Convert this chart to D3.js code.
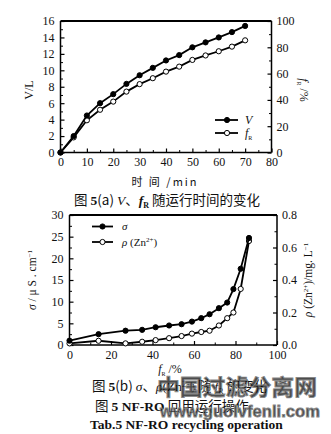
<!DOCTYPE html>
<html><head><meta charset="utf-8">
<script src="https://cdn.jsdelivr.net/npm/d3@7"></script>
<style>
body{margin:0;background:#fff;}
svg{display:block;}
text{font-family:"Liberation Serif","Times New Roman",serif;fill:#111;}
.cjk{font-family:"Noto Sans CJK SC",sans-serif;}
</style></head>
<body>
<svg id="c" width="331" height="434"></svg>
<script>
// ---- Chart (a) data ----
const timeMin = [0,5,10,15,20,25,30,35,40,45,50,55,60,65,70];
const volumeL = [0,2.0,4.5,6.0,7.1,8.35,9.4,10.3,11.2,11.85,12.8,13.4,14.0,14.65,15.4];
const recoveryF = [0,11.5,24.5,32.5,38.7,46.3,52,56.5,61.5,65.3,70.4,73.8,77,80.5,85.3];
const xTicksA = [0,10,20,30,40,50,60,70,80];
const yTicksALeft = [0,2,4,6,8,10,12,14,16];
const yTicksARight = [0,20,40,60,80,100];

// ---- Chart (b) data ----
const fR = [0,14,27,35,41.5,48,54,59,63.5,67.5,72,76,79,82.5,86.5];
const sigma = [1.0,2.5,3.3,3.5,4.1,4.5,4.8,5.4,6.2,7.1,8.5,9.8,12.9,17.6,24.7];
const rhoZn = [0.01,0.026,0.01,0.02,0.03,0.042,0.055,0.07,0.08,0.088,0.12,0.165,0.2,0.345,0.64];
const xTicksB = [0,20,40,60,80,100];
const yTicksBLeft = [0,5,10,15,20,25,30];
const yTicksBRight = [0,0.2,0.4,0.6,0.8];

const svg = d3.select("#c");

function frame(g, x0, x1, y0, y1){
  g.append("line").attr("x1",x0).attr("x2",x1).attr("y1",y0).attr("y2",y0).attr("stroke","#000").attr("stroke-width",2.2);
  g.append("line").attr("x1",x0).attr("x2",x1).attr("y1",y1).attr("y2",y1).attr("stroke","#000").attr("stroke-width",1.5);
  g.append("line").attr("x1",x0).attr("x2",x0).attr("y1",y0).attr("y2",y1).attr("stroke","#000").attr("stroke-width",1.5);
  g.append("line").attr("x1",x1).attr("x2",x1).attr("y1",y0).attr("y2",y1).attr("stroke","#000").attr("stroke-width",1.5);
}
function styleAxis(sel, fs){
  sel.select(".domain").remove();
  sel.selectAll("line").attr("stroke","#000").attr("stroke-width",1.2);
  sel.selectAll("text").style("font-size",fs+"px").attr("fill","#111");
}
function minorTicks(g, axisFn, scale, vals, transform){
  const a = g.append("g").attr("transform",transform).call(axisFn(scale).tickValues(vals).tickSize(-2.5).tickFormat(""));
  a.select(".domain").remove();
  a.selectAll("line").attr("stroke","#000").attr("stroke-width",1);
}
function series(g, x, y, xs, ys, filled){
  const line = d3.line().x((d,i)=>x(xs[i])).y(d=>y(d));
  g.append("path").datum(ys).attr("d",line).attr("fill","none").attr("stroke","#000").attr("stroke-width",1.8);
  g.selectAll(null).data(ys).enter().append("circle")
    .attr("cx",(d,i)=>x(xs[i])).attr("cy",d=>y(d)).attr("r",2.6)
    .attr("fill",filled?"#000":"#fff").attr("stroke","#000").attr("stroke-width",1);
}

// ================= Chart (a) =================
{
  const L=60.5, R=271.5, T=21, B=152.5;
  const x = d3.scaleLinear().domain([0,80]).range([L,R]);
  const yl = d3.scaleLinear().domain([0,16]).range([B,T]);
  const yr = d3.scaleLinear().domain([0,100]).range([B,T]);
  const g = svg.append("g");
  const gx = g.append("g").attr("transform",`translate(0,${B})`).call(d3.axisBottom(x).tickValues(xTicksA).tickSize(-4).tickPadding(5));
  styleAxis(gx,12);
  minorTicks(g, d3.axisBottom, x, d3.range(5,80,10), `translate(0,${B})`);
  const gl = g.append("g").attr("transform",`translate(${L},0)`).call(d3.axisLeft(yl).tickValues(yTicksALeft).tickSize(-4).tickPadding(6));
  styleAxis(gl,12);
  minorTicks(g, d3.axisLeft, yl, d3.range(1,16,2), `translate(${L},0)`);
  const gr = g.append("g").attr("transform",`translate(${R},0)`).call(d3.axisRight(yr).tickValues(yTicksARight).tickSize(-4).tickPadding(5));
  styleAxis(gr,12);
  minorTicks(g, d3.axisRight, yr, d3.range(10,100,20), `translate(${R},0)`);
  frame(g,L,R,T,B);
  series(g,x,yr,timeMin,recoveryF,false);
  series(g,x,yl,timeMin,volumeL,true);
  // legend
  [[120,true,"V"],[133,false,"f"]].forEach(([ly,filled,lab])=>{
    g.append("line").attr("x1",215).attr("x2",238).attr("y1",ly).attr("y2",ly).attr("stroke","#000").attr("stroke-width",1.8);
    g.append("circle").attr("cx",227).attr("cy",ly).attr("r",2.6).attr("fill",filled?"#000":"#fff").attr("stroke","#000");
    const t = g.append("text").attr("x",245).attr("y",ly+4).style("font-size","12px").style("font-style","italic").text(lab);
    if(!filled) t.append("tspan").attr("dy",3).style("font-size","6px").style("font-style","normal").text("R");
  });
  // axis titles
  g.append("text").attr("transform","translate(33,90) rotate(-90)").attr("text-anchor","middle").style("font-size","12px").text("V/L");
  const rt = g.append("text").attr("transform","translate(300,90) rotate(90)").attr("text-anchor","middle").style("font-size","12px");
  rt.append("tspan").style("font-style","italic").text("f");
  rt.append("tspan").attr("dy",3).style("font-size","6px").text("R");
  rt.append("tspan").attr("dy",-3).text(" /%");
  g.append("text").attr("class","cjk").attr("x",165).attr("y",186).attr("text-anchor","middle").style("font-size","11px").style("letter-spacing","2px").text("时 间 /min");
  const cap = g.append("text").attr("x",74).attr("y",205).style("font-size","13.5px");
  cap.append("tspan").attr("class","cjk").text("图 ");
  cap.append("tspan").style("font-weight","bold").text("5");
  cap.append("tspan").attr("class","cjk").text("(a)    ");
  cap.append("tspan").style("font-style","italic").text("V");
  cap.append("tspan").attr("class","cjk").text("、");
  cap.append("tspan").style("font-style","italic").style("font-weight","bold").text("f");
  cap.append("tspan").attr("dy",3).style("font-size","8px").style("font-weight","bold").text("R");
  cap.append("tspan").attr("dy",-3).attr("class","cjk").text(" 随运行时间的变化");
}

// ================= Chart (b) =================
{
  const L=69.5, R=277, T=215, B=345;
  const x = d3.scaleLinear().domain([0,100]).range([L,R]);
  const yl = d3.scaleLinear().domain([0,30]).range([B,T]);
  const yr = d3.scaleLinear().domain([0,0.8]).range([B,T]);
  const g = svg.append("g");
  const gx = g.append("g").attr("transform",`translate(0,${B})`).call(d3.axisBottom(x).tickValues(xTicksB).tickSize(-4).tickPadding(5));
  styleAxis(gx,12);
  minorTicks(g, d3.axisBottom, x, d3.range(10,100,20), `translate(0,${B})`);
  const gl = g.append("g").attr("transform",`translate(${L},0)`).call(d3.axisLeft(yl).tickValues(yTicksBLeft).tickSize(-4).tickPadding(6));
  styleAxis(gl,12);
  minorTicks(g, d3.axisLeft, yl, d3.range(2.5,30,5), `translate(${L},0)`);
  const gr = g.append("g").attr("transform",`translate(${R},0)`).call(d3.axisRight(yr).tickValues(yTicksBRight).tickSize(-4).tickPadding(5).tickFormat(d3.format(".1f")));
  styleAxis(gr,12);
  minorTicks(g, d3.axisRight, yr, d3.range(0.1,0.8,0.2), `translate(${R},0)`);
  frame(g,L,R,T,B);
  series(g,x,yr,fR,rhoZn,false);
  series(g,x,yl,fR,sigma,true);
  // legend
  [[226.5,true],[242,false]].forEach(([ly,filled])=>{
    g.append("line").attr("x1",92).attr("x2",113).attr("y1",ly).attr("y2",ly).attr("stroke","#000").attr("stroke-width",1.8);
    g.append("circle").attr("cx",102.5).attr("cy",ly).attr("r",2.6).attr("fill",filled?"#000":"#fff").attr("stroke","#000");
  });
  g.append("text").attr("x",122).attr("y",230).style("font-size","11px").style("font-style","italic").attr("fill","#555").text("σ");
  const l2 = g.append("text").attr("x",122).attr("y",245.5).style("font-size","11px").attr("fill","#555");
  l2.append("tspan").style("font-style","italic").text("ρ");
  l2.append("tspan").text(" (Zn");
  l2.append("tspan").attr("dy",-4).style("font-size","7px").text("2+");
  l2.append("tspan").attr("dy",4).text(")");
  // axis titles
  const lt = g.append("text").attr("transform","translate(36,280) rotate(-90)").attr("text-anchor","middle").style("font-size","11.5px");
  lt.append("tspan").style("font-style","italic").text("σ");
  lt.append("tspan").text(" / μ S . cm");
  lt.append("tspan").attr("dy",-4).style("font-size","7px").text("−1");
  const rt = g.append("text").attr("transform","translate(312,280) rotate(-90)").attr("text-anchor","middle").style("font-size","11.5px");
  rt.append("tspan").style("font-style","italic").text("ρ");
  rt.append("tspan").text(" (Zn");
  rt.append("tspan").attr("dy",-4).style("font-size","7px").text("2+");
  rt.append("tspan").attr("dy",4).text(")/mg. L");
  rt.append("tspan").attr("dy",-4).style("font-size","7px").text("−1");
  const xt = g.append("text").attr("x",170).attr("y",373).attr("text-anchor","middle").style("font-size","12px");
  xt.append("tspan").style("font-style","italic").text("f");
  xt.append("tspan").attr("dy",3).style("font-size","6px").text("R");
  xt.append("tspan").attr("dy",-3).text(" /%");
  // captions
  const c1 = g.append("text").attr("x",92).attr("y",391).style("font-size","13.5px");
  c1.append("tspan").attr("class","cjk").text("图 ");
  c1.append("tspan").style("font-weight","bold").text("5");
  c1.append("tspan").attr("class","cjk").text("(b)    ");
  c1.append("tspan").style("font-style","italic").text("σ");
  c1.append("tspan").attr("class","cjk").text("、");
  c1.append("tspan").style("font-style","italic").text("ρ");
  c1.append("tspan").text("(Zn");
  c1.append("tspan").attr("dy",-4).style("font-size","8px").text("2+");
  c1.append("tspan").attr("dy",4).text(")");
  c1.append("tspan").attr("class","cjk").text(" 随 ");
  c1.append("tspan").style("font-style","italic").text("f");
  c1.append("tspan").attr("dy",3).style("font-size","8px").text("R");
  c1.append("tspan").attr("dy",-3).attr("class","cjk").text(" 的变化");
  const c2 = g.append("text").attr("x",95).attr("y",411).style("font-size","13.5px");
  c2.append("tspan").attr("class","cjk").text("图 ");
  c2.append("tspan").style("font-weight","bold").text("5     NF-RO ");
  c2.append("tspan").attr("class","cjk").text("回用运行操作");
  g.append("text").attr("x",90).attr("y",429).style("font-size","13.5px").style("font-weight","bold").text("Tab.5    NF-RO recycling operation");
  // watermark
  g.append("text").attr("class","cjk").attr("x",157).attr("y",395).attr("textLength",160).attr("lengthAdjust","spacingAndGlyphs")
    .style("font-size","22px").style("font-weight","bold")
    .attr("fill","#e8e8e8").attr("fill-opacity",0.75).attr("stroke","#888").attr("stroke-width",0.8).text("中国过滤分离网");
  g.append("text").attr("x",160).attr("y",417).attr("textLength",160).attr("lengthAdjust","spacingAndGlyphs")
    .style("font-size","16px").style("font-weight","bold").style("font-family","'Liberation Sans',sans-serif")
    .attr("fill","#e8e8e8").attr("fill-opacity",0.75).attr("stroke","#888").attr("stroke-width",0.8).text("www.guolvfenli.com");
}
</script>
</body></html>
